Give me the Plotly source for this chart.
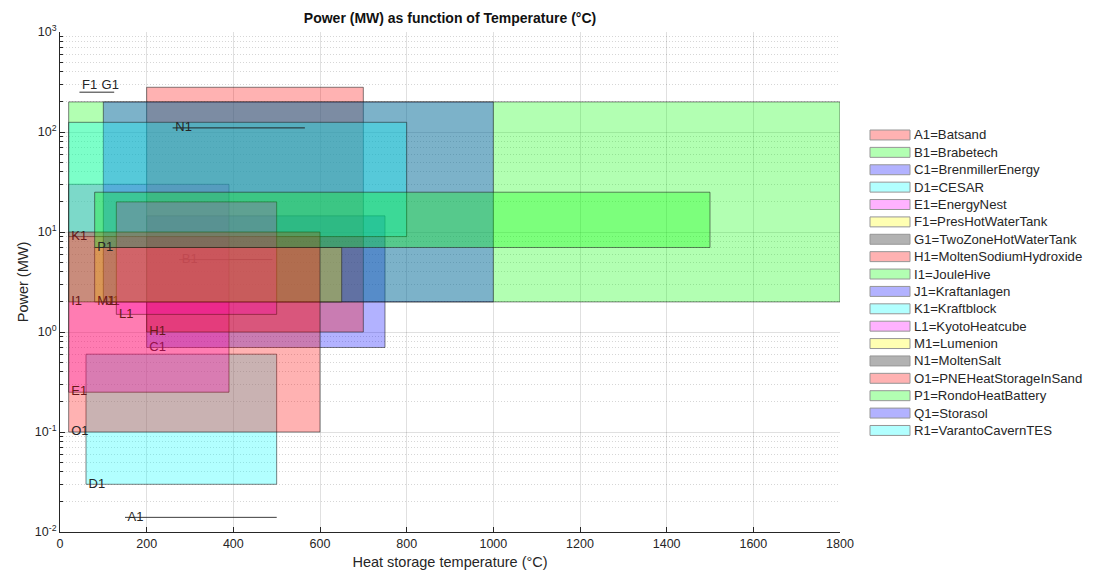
import plotly.graph_objects as go

# ---------------- data ----------------
codes = ["A1", "B1", "C1", "D1", "E1", "F1", "G1", "H1", "I1",
         "J1", "K1", "L1", "M1", "N1", "O1", "P1", "Q1", "R1"]
names = ["Batsand", "Brabetech", "BrenmillerEnergy", "CESAR", "EnergyNest",
         "PresHotWaterTank", "TwoZoneHotWaterTank", "MoltenSodiumHydroxide",
         "JouleHive", "Kraftanlagen", "Kraftblock", "KyotoHeatcube", "Lumenion",
         "MoltenSalt", "PNEHeatStorageInSand", "RondoHeatBattery", "Storasol",
         "VarantoCavernTES"]
# temperature range (°C)
t_min = [150, 275, 200, 60, 20, 45, 90, 200, 20, 100, 20, 130, 80, 260, 20, 80, None, None]
t_max = [500, 490, 750, 500, 390, 90, 125, 700, 1800, 1000, 800, 500, 650, 565, 600, 1500, None, None]
# power range (MW)
p_min = [0.014, 5.3, 0.7, 0.03, 0.25, 250, 250, 1, 2, 2, 9, 1.5, 2, 110, 0.1, 7, None, None]
p_max = [0.014, 5.3, 14.5, 0.6, 30, 250, 250, 280, 200, 200, 125, 20, 7, 110, 10, 25, None, None]

x_ticks = [0, 200, 400, 600, 800, 1000, 1200, 1400, 1600, 1800]
y_ticks = [0.01, 0.1, 1, 10, 100, 1000]
y_ticktext = ["10<sup>-2</sup>", "10<sup>-1</sup>", "10<sup>0</sup>",
              "10<sup>1</sup>", "10<sup>2</sup>", "10<sup>3</sup>"]
y_minor = [m * 10 ** e for e in range(-2, 3) for m in range(2, 10)]

# ---------------- style ----------------
base_colors = [(255, 0, 0), (0, 255, 0), (0, 0, 255), (0, 255, 255),
               (255, 0, 255), (255, 255, 0), (0, 0, 0)]
ALPHA = 0.3
label_pos = {"F1": "top right", "G1": "top right"}
FONT = "Liberation Sans, Arial, Helvetica, sans-serif"
TXT = "#262626"


def rgba(c, a):
    return f"rgba({c[0]},{c[1]},{c[2]},{a})"


def blend(c, a):
    return "rgb(%d,%d,%d)" % tuple(round(255 * (1 - a) + v * a) for v in c)


fig = go.Figure()

for i, code in enumerate(codes):
    col = base_colors[i % len(base_colors)]
    if t_min[i] is None:
        continue
    x0, x1, y0, y1 = t_min[i], t_max[i], p_min[i], p_max[i]
    fig.add_trace(go.Scatter(
        x=[x0, x1, x1, x0, x0], y=[y0, y0, y1, y1, y0],
        mode="lines", fill="toself", fillcolor=rgba(col, ALPHA),
        line=dict(color="rgba(30,30,30,0.55)", width=1),
        hoverinfo="skip", showlegend=False))
    fig.add_trace(go.Scatter(
        x=[x0], y=[y0], mode="text", text=["\u2009" + code],
        textposition=label_pos.get(code, "middle right"),
        textfont=dict(family=FONT, size=13, color=TXT),
        hoverinfo="skip", showlegend=False))

# ---------------- manual legend (MATLAB look) ----------------
PLOT_L, PLOT_R, PLOT_T, PLOT_B = 60, 840, 32.3, 534.3
pw, ph = PLOT_R - PLOT_L, PLOT_B - PLOT_T


def px_x(px):
    return (px - PLOT_L) / pw


def px_y(py):
    return (PLOT_B - py) / ph


shapes = []
annotations = []
row0, row_step = 135.7, 17.45
for i, (code, name) in enumerate(zip(codes, names)):
    col = base_colors[i % len(base_colors)]
    cy = row0 + i * row_step
    shapes.append(dict(type="rect", xref="paper", yref="paper",
                       x0=px_x(870), x1=px_x(910), y0=px_y(cy + 5), y1=px_y(cy - 5),
                       fillcolor=blend(col, ALPHA),
                       line=dict(color="rgb(150,150,150)", width=1)))
    annotations.append(dict(xref="paper", yref="paper", x=px_x(912), y=px_y(cy),
                            xanchor="left", yanchor="middle", showarrow=False,
                            text=f"{code}={name}",
                            font=dict(family=FONT, size=13.2, color=TXT)))

fig.update_layout(
    width=1094, height=579,
    margin=dict(l=PLOT_L, r=1094 - PLOT_R, t=PLOT_T, b=579 - PLOT_B),
    paper_bgcolor="white", plot_bgcolor="white",
    showlegend=False,
    title=dict(text="<b>Power (MW) as function of Temperature (°C)</b>",
               x=(PLOT_L + PLOT_R) / 2 / 1094, xanchor="center",
               y=1 - 18 / 579, yanchor="middle", yref="container",
               font=dict(family=FONT, size=14, color="#111")),
    font=dict(family=FONT, size=12.5, color=TXT),
    shapes=shapes, annotations=annotations,
)

fig.update_xaxes(
    range=[0, 1800], tickvals=x_ticks, ticks="inside", ticklen=5,
    tickcolor=TXT, showline=True, linecolor=TXT, linewidth=1,
    showgrid=True, gridcolor="rgba(0,0,0,0.12)", gridwidth=1, zeroline=False,
    title=dict(text="Heat storage temperature (°C)", standoff=6,
               font=dict(family=FONT, size=14.5, color=TXT)),
    tickfont=dict(family=FONT, size=12.5, color=TXT),
)
fig.update_yaxes(
    type="log", range=[-2, 3], tickvals=y_ticks, ticktext=y_ticktext,
    ticks="inside", ticklen=5, tickcolor=TXT,
    showline=True, linecolor=TXT, linewidth=1,
    showgrid=True, gridcolor="rgba(0,0,0,0.12)", gridwidth=1, zeroline=False,
    minor=dict(tickvals=y_minor, ticks="inside", ticklen=3, tickcolor=TXT,
               showgrid=True, gridcolor="rgba(0,0,0,0.16)", griddash="1px,2px"),
    title=dict(text="Power (MW)", standoff=2,
               font=dict(family=FONT, size=14.5, color=TXT)),
    tickfont=dict(family=FONT, size=12.5, color=TXT),
)

fig.write_html("out.html")
